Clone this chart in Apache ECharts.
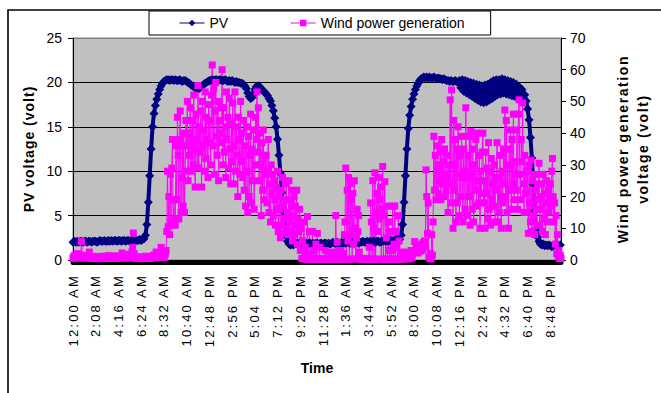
<!DOCTYPE html>
<html>
<head>
<meta charset="utf-8">
<script src="https://cdn.jsdelivr.net/npm/echarts@6/dist/echarts.min.js"></script>
<style>
  html, body { margin: 0; padding: 0; background: #fff; }
  #chart { width: 661px; height: 393px; }
</style>
</head>
<body>
<div id="chart"></div>
<script>
// time axis labels, one every 128 minutes from 12:00 AM
const tickLabels = [
  "12:00 AM", "2:08 AM", "4:16 AM", "6:24 AM", "8:32 AM", "10:40 AM",
  "12:48 PM", "2:56 PM", "5:04 PM", "7:12 PM", "9:20 PM", "11:28 PM",
  "1:36 AM", "3:44 AM", "5:52 AM", "8:00 AM", "10:08 AM", "12:16 PM",
  "2:24 PM", "4:32 PM", "6:40 PM", "8:48 PM"
]
const tickStep = 128 // minutes between labels
const endMinute = 2748

// PV voltage (volt), left axis, one reading every 8 minutes
const pvStep = 8
const pv = [
  2.0, 2.1, 2.0, 2.1, 2.0, 2.1, 2.1, 2.0, 2.1, 2.1,
  2.0, 2.1, 2.1, 2.0, 2.1, 2.1, 2.1, 2.0, 2.1, 2.2,
  2.1, 2.1, 2.2, 2.1, 2.1, 2.2, 2.1, 2.2, 2.1, 2.2,
  2.2, 2.1, 2.2, 2.2, 2.1, 2.2, 2.2, 2.1, 2.2, 2.2,
  2.1, 2.2, 2.2, 2.1, 2.2, 2.2, 2.2, 2.3, 2.2, 2.3,
  2.4, 2.8, 4.0, 6.5, 9.5, 12.5, 15.0, 16.5, 17.4, 18.1,
  18.7, 19.2, 19.6, 19.9, 20.1, 20.2, 20.3, 20.3, 20.2, 20.3,
  20.3, 20.2, 20.3, 20.2, 20.2, 20.3, 20.2, 20.1, 20.2, 20.2,
  20.1, 20.0, 19.9, 19.7, 19.6, 19.5, 19.4, 19.3, 19.4, 19.3,
  19.5, 19.6, 19.8, 19.9, 20.0, 20.1, 20.2, 20.2, 20.3, 20.2,
  20.3, 20.3, 20.2, 20.3, 20.3, 20.2, 20.2, 20.3, 20.2, 20.1,
  20.2, 20.1, 20.2, 20.1, 20.0, 20.1, 20.0, 20.0, 19.9, 19.9,
  19.8, 19.6, 19.3, 18.8, 18.4, 18.2, 18.3, 18.7, 19.2, 19.5,
  19.6, 19.6, 19.4, 19.2, 19.0, 18.9, 18.7, 18.5, 18.2, 17.9,
  17.4, 16.8, 16.0, 15.0, 13.6, 11.8, 9.8, 7.6, 5.5, 3.8,
  2.7, 2.1, 1.8, 1.7, 1.8, 1.7, 1.8, 1.9, 1.8, 1.9,
  1.9, 1.8, 1.9, 1.8, 1.9, 1.8, 1.9, 1.9, 1.8, 1.9,
  1.8, 1.9, 1.9, 1.8, 1.9, 1.9, 1.8, 1.9, 1.9, 1.8,
  1.9, 1.8, 1.9, 2.0, 1.9, 1.9, 2.0, 1.9, 1.9, 2.0,
  1.9, 2.0, 1.9, 2.0, 2.0, 1.9, 2.0, 2.0, 1.9, 2.0,
  2.0, 1.9, 2.0, 2.0, 2.1, 2.0, 2.0, 2.1, 2.0, 2.1,
  2.0, 2.1, 2.1, 2.0, 2.1, 2.1, 2.0, 2.1, 2.1, 2.2,
  2.1, 2.2, 2.1, 2.2, 2.2, 2.1, 2.2, 2.2, 2.3, 2.2,
  2.3, 2.8, 4.0, 6.5, 9.5, 12.5, 14.8, 16.3, 17.3, 18.1,
  18.7, 19.2, 19.6, 19.9, 20.2, 20.4, 20.5, 20.6, 20.5, 20.6,
  20.5, 20.6, 20.5, 20.5, 20.6, 20.5, 20.4, 20.5, 20.4, 20.4,
  20.3, 20.4, 20.3, 20.2, 20.2, 20.1, 20.2, 20.1, 20.1, 20.2,
  20.1, 20.0, 20.2, 19.4, 20.3, 19.0, 20.2, 18.8, 20.1, 18.6,
  20.0, 18.4, 19.9, 18.2, 19.8, 18.0, 19.7, 17.8, 19.6, 17.7,
  19.7, 17.8, 19.8, 18.0, 20.0, 18.2, 20.2, 18.4, 20.3, 18.6,
  20.3, 18.7, 20.4, 18.8, 20.3, 18.7, 20.2, 18.6, 20.1, 18.5,
  20.0, 18.4, 19.8, 18.3, 19.5, 18.2, 19.2, 18.1, 18.6, 17.9,
  17.0, 15.8, 13.8, 11.5, 8.5, 5.5, 3.5, 2.6, 2.1, 1.8,
  1.7, 1.8, 1.6, 1.7, 1.6, 1.7, 1.6, 1.5, 1.6, 1.7,
  1.6, 1.7, 1.6, 1.7
]

// Wind power generation voltage (volt), right axis, one reading every 4 minutes
const windStep = 4
const wind = [
  0.5, 1.2, 0.8, 1.5, 1.0, 0.6, 2.0, 1.1, 0.7, 1.3, 0.9, 1.6, 5.8, 1.2, 0.6, 0.9,
  1.3, 0.8, 0.6, 1.1, 0.9, 1.4, 0.7, 2.5, 1.0, 0.5, 0.8, 1.2, 0.6, 0.9, 1.1, 0.7,
  0.4, 0.6, 0.9, 0.5, 0.7, 1.0, 0.6, 0.4, 0.8, 1.2, 0.7, 0.5, 0.9, 0.6, 1.0, 0.5,
  0.6, 0.9, 1.4, 0.8, 1.1, 0.7, 0.5, 0.9, 1.2, 0.6, 1.0, 0.8, 1.3, 0.7, 0.9, 0.6,
  0.8, 0.6, 1.0, 0.7, 1.2, 2.2, 1.0, 0.6, 0.8, 1.3, 0.7, 0.9, 1.1, 0.6, 0.8, 1.8,
  0.7, 1.0, 1.8, 2.5, 4.0, 8.5, 2.0, 0.9, 0.5, 0.8, 0.6, 1.0, 0.5, 0.7, 0.9, 0.6,
  0.4, 0.7, 0.5, 0.9, 0.6, 0.8, 1.2, 0.7, 0.5, 0.9, 1.1, 0.6, 0.8, 0.5, 0.7, 1.0,
  0.8, 1.5, 1.0, 0.7, 1.3, 2.5, 1.2, 0.8, 1.6, 1.0, 2.0, 1.4, 4.0, 1.5, 2.2, 1.0,
  0.8, 1.5, 2, 3, 9, 28, 10.5, 20, 8, 27, 12, 29, 38, 11, 19, 13,
  11, 36, 19, 45, 33, 13, 38, 47, 15, 26, 36, 17, 40, 15, 28, 44,
  36, 50, 25, 40, 33, 48, 28, 37, 44, 30, 52, 35, 23, 46, 38, 29,
  55, 29, 42, 34, 47, 23, 50, 36, 41, 28, 53, 32, 45, 38, 26, 49,
  37, 44, 30, 52, 61.5, 36, 54, 27, 47, 56, 39, 33, 50, 25, 44, 40,
  37, 48, 60, 30, 48, 34, 42, 26, 53, 38, 45, 29, 51, 35, 24, 43,
  31, 49.5, 24, 36, 53, 28, 42, 33, 20, 45, 38, 27, 50, 31, 40, 26,
  44, 22, 36, 17, 42, 28, 15, 39, 20, 33, 46, 18, 35, 25, 41, 16,
  30, 45, 38, 53, 34, 48, 25, 40, 30, 14, 37, 22, 41, 19, 33, 27,
  33, 18, 28, 38, 15, 24, 12, 30, 21, 27, 14, 25, 19, 11, 23, 16,
  28, 9, 20, 16, 7, 22, 11, 26, 17, 8.5, 19, 13, 24, 10, 15, 8,
  25, 12, 19, 9, 22, 6, 14, 20, 8, 17, 11, 22, 5, 13, 9, 16,
  3, 10, 0.5, 6, 0.3, 12, 2, 4, 0.3, 1.5, 13.7, 0.5, 2, 9, 0.3, 0.2,
  0.3, 9, 0.2, 3, 0.4, 0.2, 5, 0.3, 8.4, 0.2, 0.3, 4, 0.2, 0.5, 0.3, 0.2,
  0.2, 0.3, 0.2, 3, 0.3, 0.2, 0.4, 0.2, 2.5, 0.3, 0.2, 0.3, 0.5, 0.2, 1.0, 0.3,
  0.4, 2.5, 14, 0.3, 5.6, 0.5, 2.5, 0.3, 0.2, 3, 0.4, 1.5, 0.3, 2, 8, 12,
  29, 0.3, 22, 6, 26, 0.2, 24, 8, 19, 0.3, 21, 5, 25, 10, 0.4, 7,
  16, 9, 14, 2.5, 0.3, 0.2, 0.4, 0.2, 0.3, 0.5, 0.2, 0.3, 0.4, 0.2, 0.5, 0.3,
  0.3, 4, 0.2, 18, 12, 0.3, 25, 10, 0.2, 27.5, 0.3, 15, 21, 9, 26, 13,
  19, 23, 0.3, 16, 29.5, 0.2, 14, 24.7, 0.3, 7, 17, 0.2, 12, 3, 0.3, 9,
  0.2, 3, 17, 0.3, 5, 17, 0.2, 9, 4, 0.3, 14, 6, 0.2, 2.5, 0.3, 1.0,
  1.0, 0.3, 2.0, 0.6, 1.2, 0.4, 2.5, 0.8, 1.5, 0.3, 2.2, 1.0, 3.0, 0.6, 1.8, 2.5,
  3.0, 5.8, 2.5, 4.0, 3.0, 4.5, 2.2, 3.5, 5.0, 4.0, 2.8, 4.2, 3.3, 5.5, 4.0, 6.0,
  4, 28.4, 20, 8.4, 18, 1.0, 0.5, 2.0, 0.3, 8, 1.5, 12, 39, 22, 33, 19,
  28, 36, 21, 30, 25, 34, 19, 38, 24, 31, 20, 35, 27, 22, 33, 26,
  15, 30, 24, 50.5, 18, 53.6, 30, 10, 44, 22, 38, 12, 35, 18, 42, 27,
  14, 33, 20, 39, 26, 12, 35, 28, 16, 48, 26, 14, 33, 20, 39, 11,
  40.5, 27, 16, 35, 12, 30, 22, 38, 17, 40, 25, 18, 33, 10, 28, 21,
  34, 40, 18, 25, 10, 34, 21, 29, 13, 37, 16, 28, 11, 32, 19, 24,
  17, 30, 12, 26, 22, 37, 12, 26, 15, 33, 20, 10, 28, 18, 35, 24,
  47.3, 20, 44, 15, 30, 10, 35, 22, 41, 16, 38, 24, 46, 19, 31, 27,
  22, 41, 16, 46, 50.5, 27, 19, 38, 31, 49.5, 24, 15, 33, 21, 28, 15,
  28, 8.4, 30, 18, 12, 31.5, 9, 25, 14, 22, 8, 27, 16, 11, 24, 19,
  30.5, 11, 20, 16, 24, 9, 27, 13, 21, 8, 18, 25, 12, 22, 15, 19,
  24, 17, 28, 32, 20, 12, 18, 5, 14, 2, 8, 1, 3, 0.5, 1.5, 0.5
]

const font = "Liberation Sans"
const chart = echarts.init(document.getElementById("chart"), null, { renderer: "svg" })

const option = {
  animation: false,
  backgroundColor: "#fff",
  textStyle: { fontFamily: font, color: "#000" },
  graphic: [
    {
      type: "rect",
      z: 0,
      shape: { x: 8, y: 10, width: 720, height: 460 },
      style: { fill: "none", stroke: "#000", lineWidth: 1.6 },
    },
  ],
  legend: {
    left: 149,
    top: 11,
    padding: [5, 26, 5, 30],
    itemGap: 62,
    itemWidth: 25,
    itemHeight: 8,
    backgroundColor: "#fff",
    borderColor: "#000",
    borderWidth: 1,
    textStyle: { fontSize: 14, fontFamily: font, color: "#000" },
    data: [
      { name: "PV", itemStyle: { color: "#000080" }, lineStyle: { width: 1 } },
      { name: "Wind power generation", itemStyle: { color: "#ff00ff" }, lineStyle: { width: 1 } },
    ],
  },
  grid: {
    left: 73,
    right: 76,
    top: 38,
    bottom: 133,
    show: true,
    backgroundColor: "#c0c0c0",
    borderColor: "#808080",
    borderWidth: 1,
  },
  xAxis: {
    type: "value",
    min: 0,
    max: endMinute,
    interval: tickStep,
    name: "Time",
    nameLocation: "middle",
    nameGap: 99,
    nameTextStyle: { fontSize: 14, fontWeight: "bold", fontFamily: font, color: "#000" },
    offset: 2,
    axisLine: { onZero: false, lineStyle: { color: "#000", width: 5 } },
    axisTick: { show: false },
    splitLine: { show: false },
    axisLabel: {
      rotate: 90,
      margin: 12,
      fontSize: 13,
      fontFamily: font,
      color: "#000",
      showMaxLabel: false,
      formatter: (v) => (v % tickStep === 0 ? tickLabels[v / tickStep] || "" : ""),
    },
  },
  yAxis: [
    {
      type: "value",
      min: 0,
      max: 25,
      interval: 5,
      name: "PV voltage (volt)",
      nameLocation: "middle",
      nameGap: 30,
      nameTextStyle: { fontSize: 14, fontWeight: "bold", fontFamily: font, color: "#000" },
      axisLine: { show: true, lineStyle: { color: "#000", width: 1 } },
      axisTick: { show: true, length: 5, lineStyle: { color: "#000" } },
      axisLabel: { fontSize: 14, margin: 11, color: "#000", fontFamily: font },
      splitLine: {
        lineStyle: { color: ["#000", "#000", "#000", "#000", "#000", "#808080"], width: 1 },
      },
    },
    {
      type: "value",
      min: 0,
      max: 70,
      interval: 10,
      position: "right",
      name: "Wind power generation\nvoltage (volt)",
      nameLocation: "middle",
      nameGap: 52,
      nameTextStyle: {
        fontSize: 14,
        fontWeight: "bold",
        fontFamily: font,
        color: "#000",
        lineHeight: 20,
      },
      axisLine: { show: true, lineStyle: { color: "#000", width: 1 } },
      axisTick: { show: true, length: 5, lineStyle: { color: "#000" } },
      axisLabel: { fontSize: 14, margin: 9, color: "#000", fontFamily: font },
      splitLine: { show: false },
    },
  ],
  series: [
    {
      name: "PV",
      type: "line",
      yAxisIndex: 0,
      data: pv.map((v, i) => [i * pvStep, v]),
      symbol: "diamond",
      symbolSize: 9,
      color: "#000080",
      itemStyle: { color: "#000080" },
      lineStyle: { color: "#000080", width: 4 },
    },
    {
      name: "Wind power generation",
      type: "line",
      yAxisIndex: 1,
      data: wind.map((v, i) => [i * windStep, v]),
      symbol: "rect",
      symbolSize: 7,
      color: "#ff00ff",
      itemStyle: { color: "#ff00ff" },
      lineStyle: { color: "#ff00ff", width: 1 },
    },
  ],
}

chart.setOption(option)

// the original spreads the rotated texts out; widen them a little
const spreadText = () => {
  document.querySelectorAll("#chart text").forEach((t) => {
    const s = t.textContent.trim()
    const bold = getComputedStyle(t).fontWeight >= 600
    if (/^\d{1,2}:\d\d [AP]M$/.test(s)) t.style.letterSpacing = "2.2px"
    else if (s === "PV voltage (volt)") t.style.letterSpacing = "1px"
    else if (bold && (s === "Wind power generation" || s === "voltage (volt)")) t.style.letterSpacing = "1.6px"
  })
}
spreadText()
chart.on("finished", spreadText)
</script>
</body>
</html>
